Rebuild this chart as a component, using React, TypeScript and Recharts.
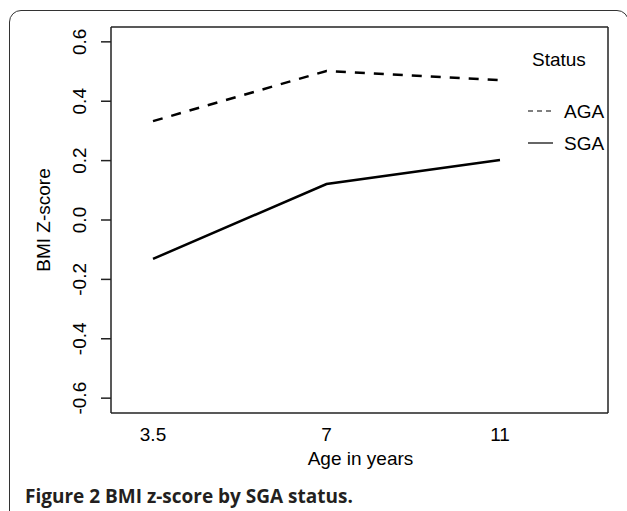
import React from "react";
import { LineChart, Line, XAxis, YAxis, CartesianGrid, Legend, Label } from "recharts";

const AGES = ["3.5", "7", "11"];
const AGA = [0.333, 0.502, 0.471];
const SGA = [-0.131, 0.121, 0.202];
const Y_TICKS = [-0.6, -0.4, -0.2, 0.0, 0.2, 0.4, 0.6];

const data = AGES.map((age, i) => ({ age, AGA: AGA[i], SGA: SGA[i] }));

const FONT = "'Liberation Sans', Arial, sans-serif";
const INK = "#000";

// eslint-disable-next-line @typescript-eslint/no-explicit-any
function YTick({ x, y, payload }: any) {
  const cx = x - 1;
  return (
    <text
      x={cx}
      y={y}
      transform={`rotate(-90, ${cx}, ${y})`}
      textAnchor="middle"
      fontSize={19}
      fontFamily={FONT}
      fill={INK}
    >
      {payload.value.toFixed(1)}
    </text>
  );
}

// eslint-disable-next-line @typescript-eslint/no-explicit-any
function XTick({ x, y, payload }: any) {
  return (
    <text x={x} y={y + 20} textAnchor="middle" fontSize={19} fontFamily={FONT} fill={INK}>
      {payload.value}
    </text>
  );
}

function StatusLegend() {
  return (
    <svg width={107} height={120} style={{ display: "block", overflow: "visible" }}>
      <text x={12} y={26} fontSize={19} fontFamily={FONT} fill={INK}>
        Status
      </text>
      <line x1={8} x2={33} y1={71} y2={71} stroke={INK} strokeWidth={1.2} strokeDasharray="5 4" />
      <text x={44} y={78} fontSize={19} fontFamily={FONT} fill={INK}>
        AGA
      </text>
      <line x1={8} x2={33} y1={103} y2={103} stroke={INK} strokeWidth={1.2} />
      <text x={44} y={110} fontSize={19} fontFamily={FONT} fill={INK}>
        SGA
      </text>
    </svg>
  );
}

export default function App() {
  return (
    <div
      style={{
        position: "absolute",
        left: 0,
        top: 0,
        width: 627,
        height: 511,
        overflow: "hidden",
        background: "#fff",
      }}
    >
      <div
        style={{
          position: "absolute",
          left: 9,
          top: 10,
          width: 620,
          height: 560,
          border: "1.5px solid #333",
          borderRadius: 12,
          boxSizing: "border-box",
        }}
      />
      <div style={{ position: "absolute", left: 0, top: 0 }}>
        <LineChart width={627} height={511} data={data} margin={{ top: 27, right: 19, bottom: 0, left: 0 }}>
          <CartesianGrid
            stroke="#222"
            strokeWidth={1.5}
            horizontalCoordinatesGenerator={({ offset }: any) => [offset.top, offset.top + offset.height]}
            verticalCoordinatesGenerator={({ offset }: any) => [offset.left, offset.left + offset.width]}
          />
          <XAxis
            dataKey="age"
            scale="point"
            padding={{ left: 42, right: 108 }}
            height={98}
            axisLine={false}
            tickLine={false}
            tick={<XTick />}
          >
            <Label
              content={({ viewBox }: any) => (
                <text
                  x={viewBox.x + viewBox.width / 2 + 1}
                  y={viewBox.y + 52}
                  textAnchor="middle"
                  fontSize={19}
                  fontFamily={FONT}
                  fill={INK}
                >
                  Age in years
                </text>
              )}
            />
          </XAxis>
          <YAxis
            domain={[-0.65, 0.65]}
            ticks={Y_TICKS}
            width={111}
            axisLine={false}
            tickLine={{ stroke: "#222", strokeWidth: 1.5 }}
            tickSize={10}
            tickMargin={14}
            tick={<YTick />}
            interval={0}
          >
            <Label
              content={({ viewBox }: any) => {
                const cx = 50;
                const cy = viewBox.y + viewBox.height / 2;
                return (
                  <text
                    x={cx}
                    y={cy}
                    transform={`rotate(-90, ${cx}, ${cy})`}
                    textAnchor="middle"
                    fontSize={19}
                    fontFamily={FONT}
                    fill={INK}
                  >
                    BMI Z-score
                  </text>
                );
              }}
            />
          </YAxis>
          <Legend
            layout="horizontal"
            verticalAlign="middle"
            align="center"
            content={() => <StatusLegend />}
            wrapperStyle={{ position: "absolute", left: 520, top: 40, width: 107, height: 120 }}
          />
          <Line
            dataKey="AGA"
            type="linear"
            stroke={INK}
            strokeWidth={2.5}
            strokeDasharray="10 9"
            dot={false}
            activeDot={false}
            isAnimationActive={false}
          />
          <Line
            dataKey="SGA"
            type="linear"
            stroke={INK}
            strokeWidth={2.5}
            dot={false}
            activeDot={false}
            isAnimationActive={false}
          />
        </LineChart>
      </div>
      <div
        style={{
          position: "absolute",
          left: 25,
          top: 485,
          fontFamily: "'Open Sans', sans-serif",
          fontWeight: 700,
          fontSize: 19,
          lineHeight: "22px",
          color: "#231f20",
          whiteSpace: "nowrap",
        }}
      >
        Figure 2 BMI z-score by SGA status.
      </div>
    </div>
  );
}
